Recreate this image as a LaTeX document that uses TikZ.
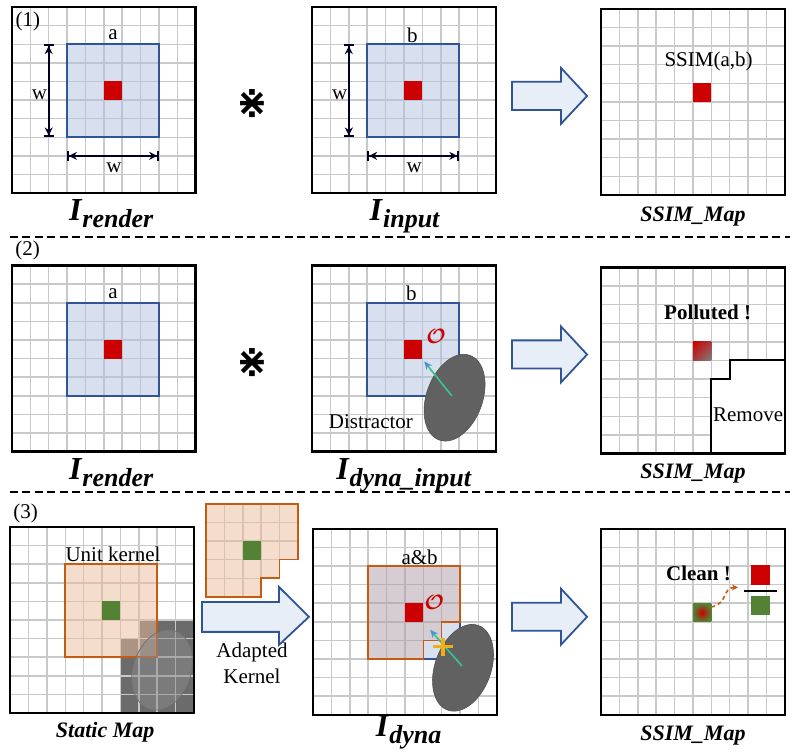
\documentclass[tikz,border=0pt]{standalone}
\usepackage{amsmath,amssymb}
\usepackage{fontspec}
\setmainfont{Liberation Serif}
\newfontfamily\symfont{DejaVu Sans}
\usetikzlibrary{arrows.meta,shadings}

\definecolor{winblue}{RGB}{47,85,151}
\definecolor{winfill}{RGB}{179,193,223}
\definecolor{kerorange}{RGB}{197,90,17}
\definecolor{kerfill}{RGB}{235,189,155}
\definecolor{mixfill}{RGB}{175,157,167}
\definecolor{pixred}{RGB}{204,0,0}
\definecolor{pixgreen}{RGB}{84,130,53}
\definecolor{arrowfill}{RGB}{232,238,247}
\definecolor{flowteal}{RGB}{60,190,150}
\definecolor{flowblue}{RGB}{70,150,205}
\definecolor{crossgold}{RGB}{240,175,20}

\newcommand{\imglabel}[2]{\textbf{\textit{#1}}\raisebox{-7pt}{\fontsize{26}{28}\selectfont\textbf{\textit{#2}}}}

\begin{document}
\begin{tikzpicture}[x=18.38pt, y=18.6pt,
    gridline/.style={draw=black!21, line width=1.5pt, step=1},
    panelframe/.style={draw=black, line width=2.6pt},
    winbox/.style={draw=winblue, line width=1.6pt},
    kerbox/.style={draw=kerorange, line width=1.6pt},
    winshade/.style={fill=winfill, fill opacity=0.5},
    kershade/.style={fill=kerfill, fill opacity=0.5},
    mixshade/.style={fill=mixfill, fill opacity=0.5},
    txt/.style={font=\fontsize{21}{26}\selectfont, inner sep=0pt},
    boldtxt/.style={font=\fontsize{21}{24}\selectfont\bfseries, inner sep=0pt},
    maplabel/.style={font=\fontsize{22}{24}\selectfont\bfseries\itshape, inner sep=0pt, anchor=base},
    imgtxt/.style={font=\fontsize{32}{34}\selectfont, inner sep=0pt, anchor=base},
    convtxt/.style={font=\fontsize{38}{38}\selectfont\symfont\bfseries, inner sep=0pt},
    dimarrow/.style={line width=1.8pt, draw=black!85!blue, {Bar[width=10pt]Stealth[length=8pt,width=8pt]}-{Stealth[length=8pt,width=8pt]Bar[width=10pt]}},
    blockarrow/.style={draw=winblue, fill=arrowfill, line width=1.8pt},
    sepline/.style={line width=1.4pt, dash pattern=on 8pt off 4.5pt},
    distract/.style={fill=black!62, draw=black!68, line width=0.6pt},
    flow/.style={draw=flowteal, line width=1.7pt, -{Stealth[length=8pt,width=7pt,color=flowblue]}}]

  \useasboundingbox[fill=white] (0,0) rectangle (43.47,40.48);

  % Row 1, left: rendered image with window a
  \begin{scope}[shift={(0.65,30.1)}]
    \draw[gridline] (0,0) grid (10,10);
    \fill[winshade] (3,3) rectangle (8,8);
    \fill[pixred] (5,5) rectangle (6,6);
    \draw[winbox] (3,3) rectangle (8,8);
    \node[txt] (winA) at (5.5,8.5) {a};
    \draw[dimarrow] (2,8) -- (2,3);
    \draw[dimarrow] (3,2) -- (8,2);
    \node[txt] (wvA) at (1.5,5.3) {w};
    \node[txt] (whA) at (5.55,1.34) {w};
    \draw[panelframe] (0,0) rectangle (10,10);
    \node[imgtxt] (lblA) at (5.4,-1.45) {\imglabel{I}{render}};
  \end{scope}
  % Row 1, middle: input image with window b
  \begin{scope}[shift={(16.98,30.1)}]
    \draw[gridline] (0,0) grid (10,10);
    \fill[winshade] (3,3) rectangle (8,8);
    \fill[pixred] (5,5) rectangle (6,6);
    \draw[winbox] (3,3) rectangle (8,8);
    \node[txt] (winB) at (5.45,8.5) {b};
    \draw[dimarrow] (2,8) -- (2,3);
    \draw[dimarrow] (3,2) -- (8,2);
    \node[txt] (wvB) at (1.5,5.3) {w};
    \node[txt] (whB) at (5.55,1.34) {w};
    \draw[panelframe] (0,0) rectangle (10,10);
    \node[imgtxt] (lblB) at (5.05,-1.45) {\imglabel{I}{input}};
  \end{scope}
  % Row 1, right: SSIM map
  \begin{scope}[shift={(32.7,30.0)}]
    \draw[gridline] (0,0) grid (10,10);
    \fill[pixred] (5,5) rectangle (6,6);
    \node[txt] (ssimC) at (5.85,7.2) {SSIM(a,b)};
    \draw[panelframe] (0,0) rectangle (10,10);
    \node[maplabel] (lblC) at (5.0,-1.45) {SSIM\_Map};
  \end{scope}

  % Row 2, left: rendered image
  \begin{scope}[shift={(0.65,16.2)}]
    \draw[gridline] (0,0) grid (10,10);
    \fill[winshade] (3,3) rectangle (8,8);
    \fill[pixred] (5,5) rectangle (6,6);
    \draw[winbox] (3,3) rectangle (8,8);
    \node[txt] (winD) at (5.5,8.5) {a};
    \draw[panelframe] (0,0) rectangle (10,10);
    \node[imgtxt] (lblD) at (5.4,-1.5) {\imglabel{I}{render}};
  \end{scope}
  % Row 2, middle: dynamic input with distractor
  \begin{scope}[shift={(16.98,16.2)}]
    \draw[gridline] (0,0) grid (10,10);
    \fill[winshade] (3,3) rectangle (8,8);
    \fill[pixred] (5,5) rectangle (6,6);
    \draw[winbox] (3,3) rectangle (8,8);
    \node[txt] (winE) at (5.4,8.5) {b};
    \node[txt, text=pixred] (outE) at (6.75,6.2) {$\boldsymbol{\mathcal{O}}$};
    \node[txt] (distE) at (3.2,1.6) {Distractor};
    \fill[distract] (7.75,2.9) ellipse [x radius=28pt, y radius=45pt, rotate=-20];
    \draw[flow] (7.6,3.0) -- (6.1,4.85);
    \draw[panelframe] (0,0) rectangle (10,10);
    \node[imgtxt] (lblE) at (5.0,-1.5) {\imglabel{I}{dyna\_input}};
  \end{scope}
  % Row 2, right: polluted SSIM map
  \begin{scope}[shift={(32.7,16.1)}]
    \draw[gridline] (0,0) grid (10,10);
    \shade[upper left=pixred, upper right=pixred!55!gray, lower left=pixred!55!gray, lower right=gray] (5,5) rectangle (6,6);
    \draw[fill=white, line width=2pt] (6,0) -- (6,4) -- (7,4) -- (7,5) -- (10,5) -- (10,0) -- cycle;
    \node[boldtxt] (pollF) at (5.8,7.6) {Polluted !};
    \node[txt] (remF) at (8.0,2.1) {Remove};
    \draw[panelframe] (0,0) rectangle (10,10);
    \node[maplabel] (lblF) at (5.0,-1.37) {SSIM\_Map};
  \end{scope}

  % Row 3, left: static map with unit kernel
  \begin{scope}[shift={(0.55,2.15)}]
    \fill[black!58] (6,0) -- (6,4) -- (7,4) -- (7,5) -- (10,5) -- (10,0) -- cycle;
    \draw[gridline] (0,0) grid (10,10);
    \fill[kershade] (3,3) rectangle (8,8);
    \fill[pixgreen] (5,5) rectangle (6,6);
    \draw[kerbox] (3,3) rectangle (8,8);
    \draw[fill=black!45, fill opacity=0.5, draw=black!55, line width=0.8pt] (8.27,2.31) ellipse [x radius=29pt, y radius=41pt, rotate=-18];
    \node[txt] (unitG) at (5.6,8.55) {Unit kernel};
    \draw[panelframe] (0,0) rectangle (10,10);
    \node[maplabel] (lblG) at (5.17,-1.34) {Static Map};
  \end{scope}
  % Adapted kernel
  \begin{scope}[shift={(11.21,8.39)}]
    \begin{scope}
      \clip (0,0) -- (0,5) -- (5,5) -- (5,2) -- (4,2) -- (4,1) -- (3,1) -- (3,0) -- cycle;
      \draw[gridline] (0,0) grid (5,5);
    \end{scope}
    \fill[kershade] (0,0) -- (0,5) -- (5,5) -- (5,2) -- (4,2) -- (4,1) -- (3,1) -- (3,0) -- cycle;
    \fill[pixgreen] (2,2) rectangle (3,3);
    \draw[kerbox] (0,0) -- (0,5) -- (5,5) -- (5,2) -- (4,2) -- (4,1) -- (3,1) -- (3,0) -- cycle;
  \end{scope}
  % Row 3, middle: dynamic image with adapted window
  \begin{scope}[shift={(17.03,2.05)}]
    \draw[gridline] (0,0) grid (10,10);
    \fill[winshade] (6,3) -- (8,3) -- (8,5) -- (7,5) -- (7,4) -- (6,4) -- cycle;
    \fill[mixshade] (3,3) -- (3,8) -- (8,8) -- (8,5) -- (7,5) -- (7,4) -- (6,4) -- (6,3) -- cycle;
    \fill[pixred] (5,5) rectangle (6,6);
    \draw[winbox] (6,3) -- (8,3) -- (8,5);
    \draw[kerbox] (3,3) -- (3,8) -- (8,8) -- (8,5) -- (7,5) -- (7,4) -- (6,4) -- (6,3) -- cycle;
    \node[txt] (winH) at (5.8,8.45) {a\&b};
    \node[txt, text=pixred] (outH) at (6.6,6.05) {$\boldsymbol{\mathcal{O}}$};
    \fill[distract] (8.16,2.53) ellipse [x radius=28pt, y radius=45pt, rotate=-20];
    \draw[flow] (8.1,2.63) -- (6.37,4.57);
    \draw[crossgold, line width=3.5pt] (6.55,3.66) -- (7.6,3.66) (7.07,3.17) -- (7.07,4.15);
    \draw[panelframe] (0,0) rectangle (10,10);
    \node[imgtxt] (lblH) at (5.2,-1.19) {\imglabel{I}{dyna}};
  \end{scope}
  % Row 3, right: clean SSIM map
  \begin{scope}[shift={(32.7,2.05)}]
    \draw[gridline] (0,0) grid (10,10);
    \shade[inner color=pixred, outer color=pixgreen] (5,5) rectangle (6,6);
    \fill[pixred] (8.15,7) rectangle (9.2,8.05);
    \fill[pixgreen] (8.15,5.35) rectangle (9.2,6.4);
    \draw[line width=1.8pt] (7.8,6.65) -- (9.55,6.65);
    \node[boldtxt] (cleanI) at (5.3,7.6) {Clean !};
    \draw[kerorange, line width=1.6pt, dash pattern=on 4pt off 3pt, -{Stealth[length=6pt,width=6pt]}] (6.0,5.8) .. controls (6.9,5.95) and (6.6,6.85) .. (7.45,6.85);
    \draw[panelframe] (0,0) rectangle (10,10);
    \node[maplabel] (lblI) at (5.0,-1.4) {SSIM\_Map};
  \end{scope}

  % Operators, block arrows, separators
  \node[convtxt] (convone) at (13.76,34.9) {⋇};
  \node[convtxt] (convtwo) at (13.76,21.0) {⋇};
  \foreach \yb in {30.1,16.2,2.1}
    \draw[blockarrow] (27.86,\yb+4.47) -- (30.52,\yb+4.47) -- (30.52,\yb+3.72) -- (31.94,\yb+5.22)
      -- (30.52,\yb+6.73) -- (30.52,\yb+5.98) -- (27.86,\yb+5.98) -- cycle;
  \draw[blockarrow] (10.99,6.51) -- (15.18,6.51) -- (15.18,5.81) -- (16.81,7.32) -- (15.18,8.92)
    -- (15.18,8.12) -- (10.99,8.12) -- cycle;
  \node[txt, align=center] (adapt) at (13.71,4.8) {Adapted\\Kernel};
  \draw[sepline] (0.54,27.74) -- (43.0,27.74);
  \draw[sepline] (0.54,14.03) -- (43.0,14.03);
  \node[txt] (rowone) at (1.52,39.3) {(1)};
  \node[txt] (rowtwo) at (1.5,27.04) {(2)};
  \node[txt] (rowthree) at (1.39,12.85) {(3)};
\end{tikzpicture}
\end{document}
